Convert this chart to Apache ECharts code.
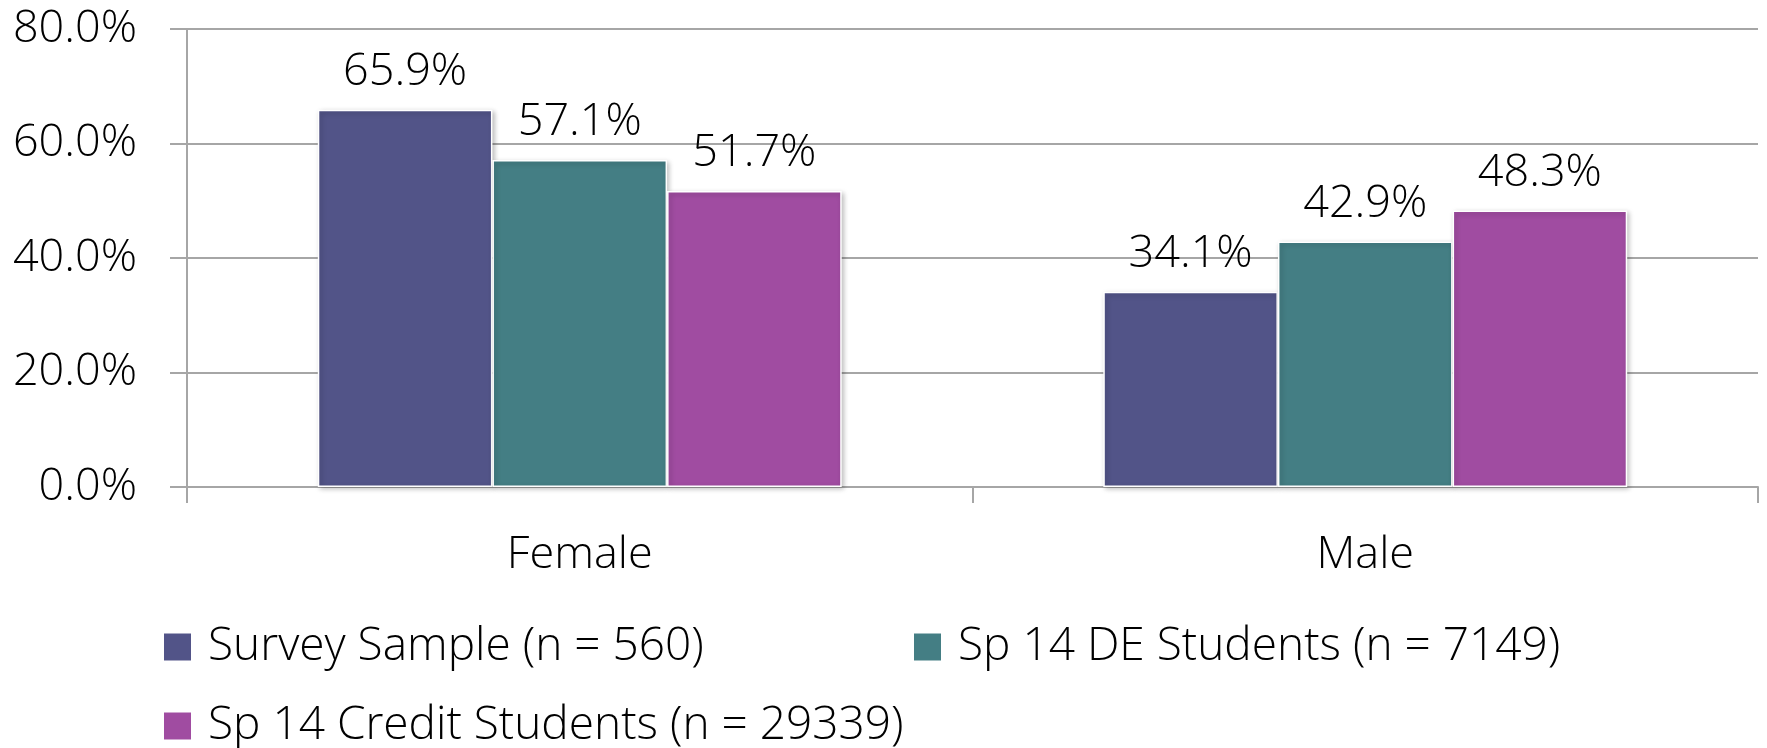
<!DOCTYPE html>
<html>
<head>
<meta charset="utf-8">
<script src="https://cdn.jsdelivr.net/npm/echarts@6/dist/echarts.min.js"></script>
<style>
  html, body { margin: 0; padding: 0; background: #ffffff; }
  #chart { width: 1767px; height: 748px; }
</style>
</head>
<body>
<div id="chart"></div>
<script>
const categories = ['Female', 'Male'];
const seriesNames = ['Survey Sample (n = 560)', 'Sp 14 DE Students (n = 7149)', 'Sp 14 Credit Students (n = 29339)'];
const surveySample = [65.9, 34.1];
const deStudents = [57.1, 42.9];
const creditStudents = [51.7, 48.3];
const yTicks = [0, 20, 40, 60, 80];
const colors = ['#525488', '#447E84', '#A04CA1'];

const FONT = 'Open Sans';
const WEIGHT = 350;
const values = [surveySample, deStudents, creditStudents];

const chart = echarts.init(document.getElementById('chart'), null, { renderer: 'canvas' });

const series = seriesNames.map((name, i) => ({
  name: name,
  type: 'bar',
  data: values[i],
  barGap: '0%',
  barCategoryGap: '33.3%',
  itemStyle: {
    color: colors[i],
    borderColor: '#ffffff',
    borderWidth: 1.5,
    shadowColor: 'rgba(0,0,0,0.28)',
    shadowBlur: 5,
    shadowOffsetX: 2,
    shadowOffsetY: 2
  },
  label: {
    show: true,
    position: 'top',
    distance: 15,
    color: '#000',
    fontFamily: FONT,
    fontWeight: WEIGHT,
    fontSize: 45,
    formatter: p => p.value.toFixed(1) + '%'
  },
  emphasis: { disabled: true }
}));

const legendCommon = {
  orient: 'horizontal',
  icon: 'rect',
  itemWidth: 27,
  itemHeight: 27,
  itemStyle: { borderWidth: 0, shadowBlur: 0, shadowOffsetX: 0, shadowOffsetY: 0 },
  textStyle: { fontFamily: FONT, fontWeight: WEIGHT, fontSize: 46, color: '#000', padding: [0, 0, 0, 12] },
  selectedMode: false
};

chart.setOption({
  animation: false,
  backgroundColor: '#ffffff',
  color: colors,
  grid: { left: 187, right: 9, top: 29, bottom: 261, containLabel: false },
  legend: [
    Object.assign({}, legendCommon, { data: [seriesNames[0]], left: 159, top: 619 }),
    Object.assign({}, legendCommon, { data: [seriesNames[1]], left: 909, top: 619 }),
    Object.assign({}, legendCommon, { data: [seriesNames[2]], left: 159, top: 698 })
  ],
  xAxis: {
    type: 'category',
    data: categories,
    boundaryGap: true,
    axisLine: { show: true, lineStyle: { color: '#a6a6a6', width: 2 } },
    axisTick: { show: true, length: 16, alignWithLabel: false, lineStyle: { color: '#a6a6a6', width: 2 } },
    axisLabel: { color: '#000', fontFamily: FONT, fontWeight: WEIGHT, fontSize: 45, margin: 46 },
    splitLine: { show: false }
  },
  yAxis: {
    type: 'value',
    min: yTicks[0],
    max: yTicks[yTicks.length - 1],
    interval: yTicks[1] - yTicks[0],
    axisLine: { show: true, lineStyle: { color: '#a6a6a6', width: 2 } },
    axisTick: { show: true, length: 17, lineStyle: { color: '#a6a6a6', width: 2 } },
    axisLabel: {
      color: '#000', fontFamily: FONT, fontWeight: WEIGHT, fontSize: 45, margin: 50,
      formatter: v => v.toFixed(1) + '%'
    },
    splitLine: { show: true, lineStyle: { color: '#a6a6a6', width: 2 } }
  },
  series: series
});
</script>
</body>
</html>
